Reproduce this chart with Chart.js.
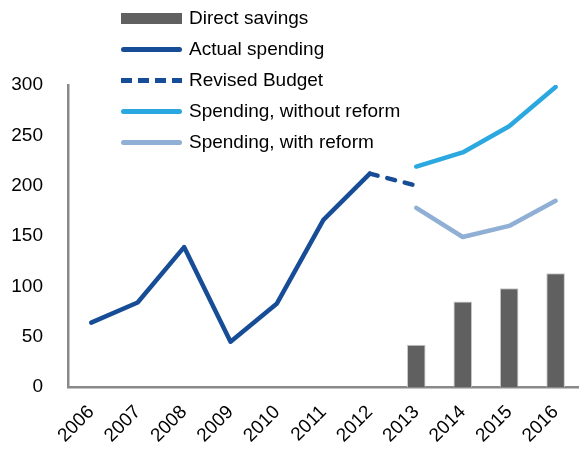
<!DOCTYPE html>
<html>
<head>
<meta charset="utf-8">
<script src="https://cdn.jsdelivr.net/npm/chart.js@4"></script>
<style>
    html, body { margin: 0; padding: 0; background: #fff; }
    #wrap { position: relative; width: 586px; height: 453px; font-family: 'Liberation Sans', Arial, sans-serif; }
    #legend { position: absolute; left: 121px; top: 3px; }
    .item { position: absolute; left: 0; height: 30px; white-space: nowrap; font-size: 19px; color: #000; }
    .sym { position: absolute; left: 0; width: 61px; }
    .lbl { position: absolute; left: 68px; top: 0; line-height: 30px; }
</style>
</head>
<body>
<div id="wrap">
    <canvas id="chart" width="586" height="453"></canvas>
    <div id="legend"></div>
</div>
<script>
const years = ['2006', '2007', '2008', '2009', '2010', '2011', '2012', '2013', '2014', '2015', '2016']
const directSavings = [null, null, null, null, null, null, null, 42, 85, 98, 113]
const actualSpending = [64, 84, 139, 45, 83, 166, 212, null, null, null, null]
const revisedBudget = [null, null, null, null, null, null, 212, 200, null, null, null]
const withoutReform = [null, null, null, null, null, null, null, 219, 233, 259, 298]
const withReform = [null, null, null, null, null, null, null, 178, 149, 160, 185]
const yTicks = [0, 50, 100, 150, 200, 250, 300]

const colors = {
    bar: '#606060',
    dark: '#174d97',
    light: '#2aa8df',
    pale: '#8fafd5',
    axis: '#898989',
}

const FONT = { family: "'Liberation Sans', Arial, sans-serif", size: 19 }

const lineDs = (label, data, color, dash) => ({
    type: 'line', label, data, borderColor: color, backgroundColor: color,
    borderWidth: 4.5, pointRadius: 0, borderCapStyle: 'round', borderJoinStyle: 'round',
    borderDash: dash || [], spanGaps: false, tension: 0, order: 1,
})

new Chart(document.getElementById('chart'), {
    type: 'bar',
    data: {
        labels: years,
        datasets: [
            { type: 'bar', label: 'Direct savings', data: directSavings, backgroundColor: colors.bar,
              borderColor: '#c8c8c8', borderWidth: 1, barPercentage: 0.4, categoryPercentage: 1, order: 2 },
            lineDs('Actual spending', actualSpending, colors.dark),
            lineDs('Revised Budget', revisedBudget, colors.dark, [8, 10]),
            lineDs('Spending, without reform', withoutReform, colors.light),
            lineDs('Spending, with reform', withReform, colors.pale),
        ]
    },
    options: {
        responsive: false,
        animation: false,
        layout: { padding: { top: 85, right: 6, left: 0, bottom: 0 } },
        plugins: { legend: { display: false }, tooltip: { enabled: false } },
        scales: {
            x: {
                offset: true,
                grid: { display: false, drawTicks: false },
                border: { display: true, color: colors.axis, width: 2.5 },
                ticks: { color: '#000', font: FONT, maxRotation: 45, minRotation: 45, padding: 14 },
                afterFit: s => { s.height = 66 },
            },
            y: {
                min: 0, max: 300,
                grid: { display: false, drawTicks: false },
                border: { display: true, color: colors.axis, width: 2.5 },
                afterBuildTicks: s => { s.ticks = yTicks.map(v => ({ value: v })) },
                ticks: { color: '#000', font: FONT, padding: 25 },
                afterFit: s => { s.width = 68 },
            }
        }
    }
})

// legend drawn as html over the chart
const legendItems = [
    { label: 'Direct savings', kind: 'bar', color: colors.bar },
    { label: 'Actual spending', kind: 'line', color: colors.dark },
    { label: 'Revised Budget', kind: 'dash', color: colors.dark },
    { label: 'Spending, without reform', kind: 'line', color: colors.light },
    { label: 'Spending, with reform', kind: 'line', color: colors.pale },
]

const legendEl = document.getElementById('legend')
legendItems.forEach((it, i) => {
    const el = document.createElement('div')
    el.className = 'item'
    el.style.top = (i * 31) + 'px'
    let sym
    if (it.kind === 'bar') {
        sym = `<div class="sym" style="top:10px;height:11px;background:${it.color}"></div>`
    } else if (it.kind === 'dash') {
        sym = `<div class="sym" style="top:13px;height:4.5px;background:repeating-linear-gradient(90deg, ${it.color} 0 11px, transparent 11px 17px)"></div>`
    } else {
        sym = `<div class="sym" style="top:13px;height:4.5px;border-radius:3px;background:${it.color}"></div>`
    }
    el.innerHTML = sym + `<span class="lbl">${it.label}</span>`
    legendEl.appendChild(el)
})
</script>
</body>
</html>
